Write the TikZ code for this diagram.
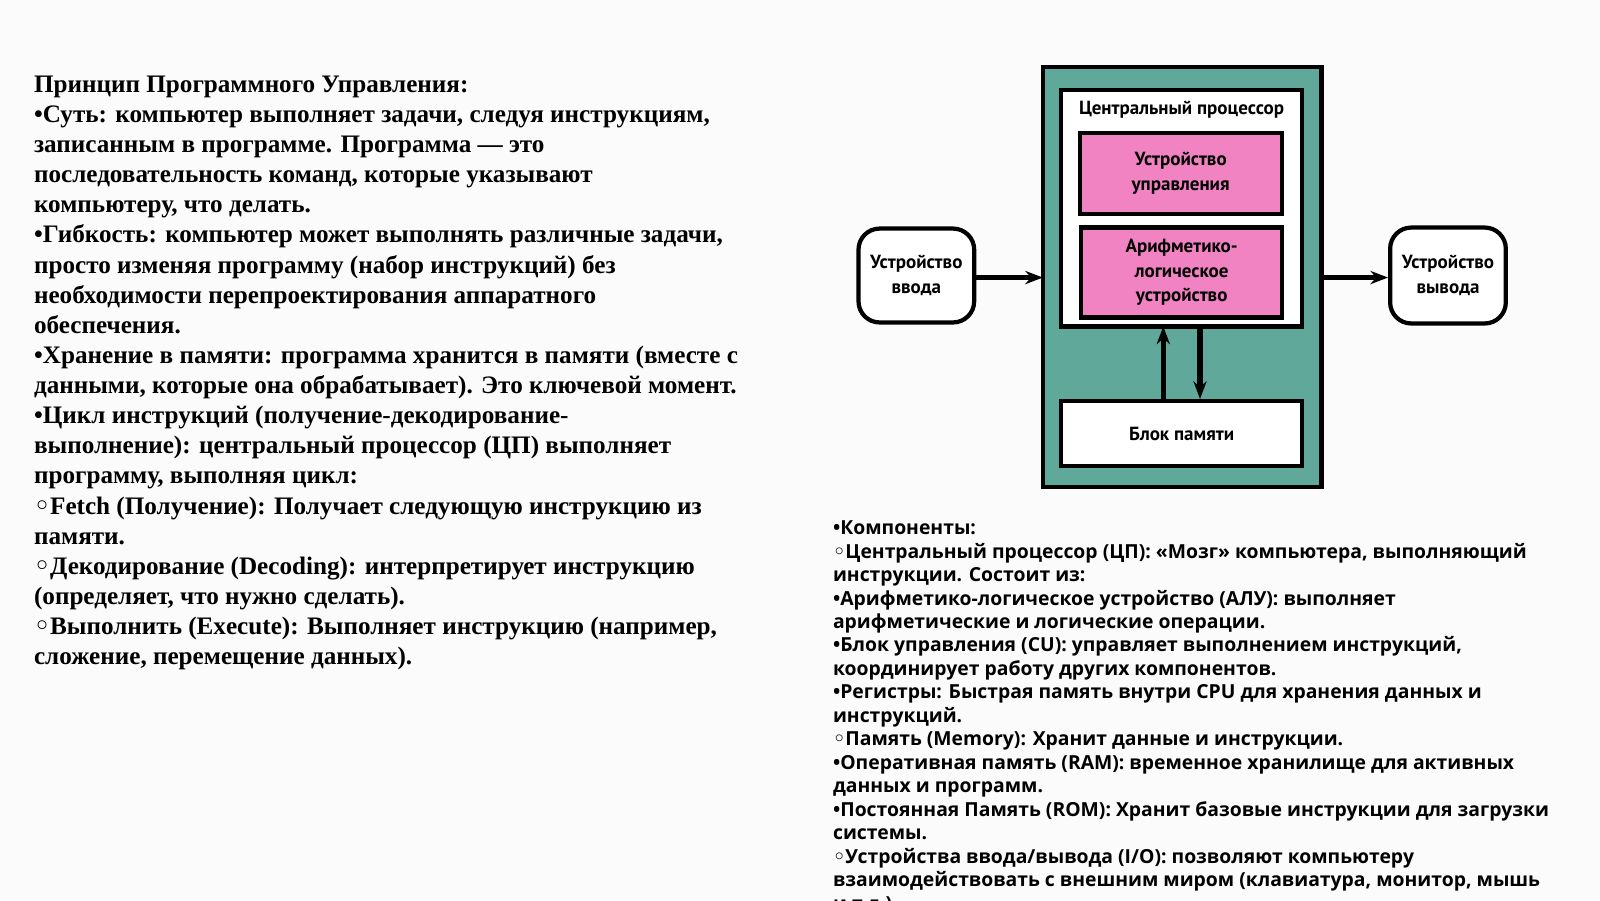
\documentclass[tikz,border=0pt]{standalone}
\usepackage{fontspec}
\setmainfont{Liberation Serif}
\newfontfamily\bodysans{Open Sans}
\newfontfamily\boxsans{PT Sans}
\newfontfamily\symfont{DejaVu Sans}
\newcommand{\subbul}{{\symfont ◦}}
\usetikzlibrary{arrows.meta}
\definecolor{tealbg}{HTML}{5FA89A}
\definecolor{pinkbox}{HTML}{F283C3}
\begin{document}
\begin{tikzpicture}[x={(0.0102cm,0)},y={(0,-0.0102cm)},>={Stealth[length=5pt]},thick,
  box/.style={draw=black,line width=1.2pt,align=center,font=\boxsans\bfseries\fontsize{5.4}{7}\selectfont},
  lefttext/.style={anchor=north west,align=left,inner sep=0pt,font=\bfseries\fontsize{7.15}{8.56}\selectfont},
  righttext/.style={anchor=north west,align=left,inner sep=0pt,font=\bodysans\bfseries\fontsize{5.5}{6.67}\selectfont}]
  \fill[white!95!gray!70] (0,0) rectangle (1568,882);
  \useasboundingbox (0,0) rectangle (1568,882);

  % processor frame
  \draw[box,fill=tealbg] (1022,66) rectangle (1295,477);
  \draw[box,fill=white] (1040,88) rectangle (1276,320);
  \node[box,draw=none] (cpu) at (1158,108) {Центральный процессор};
  \node[box,fill=pinkbox,minimum width=198*0.0102cm,minimum height=79*0.0102cm] (cu) at (1157,170) {Устройство\\управления};
  \node[box,fill=pinkbox,minimum width=197*0.0102cm,minimum height=76*0.0102cm] (alu) at (1158,267) {Арифметико-\\логическое\\устройство};
  \node[box,fill=white,minimum width=236*0.0102cm,minimum height=64*0.0102cm] (mem) at (1158,425) {Блок памяти};
  \coordinate (cpubot) at (1158,320);
  \node[box,fill=white,rounded corners=6pt,minimum width=113*0.0102cm,minimum height=92*0.0102cm] (in) at (898,270) {Устройство\\ввода};
  \node[box,fill=white,rounded corners=6pt,minimum width=106*0.0102cm,minimum height=94*0.0102cm] (out) at (1419,270) {Устройство\\вывода};
  \coordinate (cpuleft) at (1022,272);
  \coordinate (cpuright) at (1295,272);

  \draw[->,line width=1.5pt] (in.east |- cpuleft) -- (cpuleft);
  \draw[->,line width=1.5pt] (cpuright) -- (out.west |- cpuright);
  \draw[->,line width=1.5pt] ([xshift=-18*0.0102cm]mem.north) -- ([xshift=-18*0.0102cm]cpubot);
  \draw[->,line width=1.5pt] ([xshift=18*0.0102cm]cpubot) -- ([xshift=18*0.0102cm]mem.north);

  % left text
  \node[lefttext] (principle) at (32,73) {Принцип Программного Управления:\\
•Суть: компьютер выполняет задачи, следуя инструкциям,\\
записанным в программе. Программа — это\\
последовательность команд, которые указывают\\
компьютеру, что делать.\\
•Гибкость: компьютер может выполнять различные задачи,\\
просто изменяя программу (набор инструкций) без\\
необходимости перепроектирования аппаратного\\
обеспечения.\\
•Хранение в памяти: программа хранится в памяти (вместе с\\
данными, которые она обрабатывает). Это ключевой момент.\\
•Цикл инструкций (получение-декодирование-\\
выполнение): центральный процессор (ЦП) выполняет\\
программу, выполняя цикл:\\
\subbul Fetch (Получение): Получает следующую инструкцию из\\
памяти.\\
\subbul Декодирование (Decoding): интерпретирует инструкцию\\
(определяет, что нужно сделать).\\
\subbul Выполнить (Execute): Выполняет инструкцию (например,\\
сложение, перемещение данных).};

  % right text
  \node[righttext] (components) at (815,509) {•Компоненты:\\
\subbul Центральный процессор (ЦП): «Мозг» компьютера, выполняющий\\
инструкции. Состоит из:\\
•Арифметико-логическое устройство (АЛУ): выполняет\\
арифметические и логические операции.\\
•Блок управления (CU): управляет выполнением инструкций,\\
координирует работу других компонентов.\\
•Регистры: Быстрая память внутри CPU для хранения данных и\\
инструкций.\\
\subbul Память (Memory): Хранит данные и инструкции.\\
•Оперативная память (RAM): временное хранилище для активных\\
данных и программ.\\
•Постоянная Память (ROM): Хранит базовые инструкции для загрузки\\
системы.\\
\subbul Устройства ввода/вывода (I/O): позволяют компьютеру\\
взаимодействовать с внешним миром (клавиатура, монитор, мышь\\
и т.д.).};
\end{tikzpicture}
\end{document}
